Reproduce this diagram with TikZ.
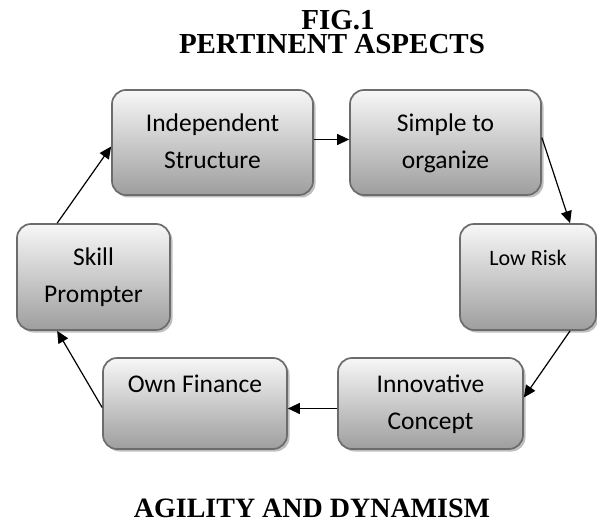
\documentclass[tikz,border=0pt]{standalone}
\usepackage{fontspec}
\setmainfont{Liberation Serif}
\newfontfamily\boxfont{Carlito}
\usetikzlibrary{arrows.meta,shadows}

\definecolor{boxtop}{RGB}{247,247,247}
\definecolor{boxbottom}{RGB}{158,158,158}
\definecolor{boxedge}{RGB}{108,108,108}

\begin{document}
\begin{tikzpicture}[x=1pt,y=-1pt,
  stage/.style={rectangle, rounded corners=14pt, draw=boxedge, line width=1.7pt,
    top color=boxtop, bottom color=boxbottom,
    drop shadow={shadow xshift=2.5pt, shadow yshift=-2.5pt, fill=black!25, opacity=1},
    align=center, inner sep=0pt, text=black,
    font=\boxfont\fontsize{25.5}{37}\selectfont},
  link/.style={-{Triangle[length=12pt,width=11pt]}, line width=1.2pt, draw=black},
  heading/.style={anchor=base, inner sep=0pt, font=\bfseries\fontsize{29}{34}\selectfont}
]
\useasboundingbox (0,0) rectangle (597,529);

% titles
\node[heading] (fig) at (338,30) {FIG.1};
\node[heading] (aspects) at (332,54) {PERTINENT ASPECTS};
\node[heading, font=\bfseries\fontsize{28}{34}\selectfont] (agility) at (312,517) {AGILITY AND DYNAMISM};

% the six stages
\node[stage, minimum width=201, minimum height=105] (indep) at (212.5,142.5)
  {\strut Independent\\\strut Structure};
\node[stage, minimum width=191, minimum height=105] (simple) at (445.5,142.5)
  {\strut Simple to\\\strut organize};
\node[stage, minimum width=136, minimum height=106,
      font=\boxfont\fontsize{22}{37}\selectfont] (low) at (528,277)
  {\strut Low Risk\\\strut};
\node[stage, minimum width=185, minimum height=91] (innov) at (430.5,403.5)
  {\strut Innovative\\\strut Concept};
\node[stage, minimum width=184, minimum height=91] (own) at (195,403.5)
  {\strut Own Finance\\\strut};
\node[stage, minimum width=153, minimum height=106] (skill) at (93.5,277)
  {\strut Skill\\\strut Prompter};

% cycle of arrows
\draw[link] ([yshift=3pt]indep.east) -- ([yshift=3pt]simple.west);
\draw[link] ([yshift=5pt]simple.east) -- (low.52);
\draw[link] (low.308) -- ([yshift=6pt]innov.east);
\draw[link] ([yshift=-5pt]innov.west) -- ([yshift=-5pt]own.west -| own.east);
\draw[link] ([yshift=-4pt]own.west) -- (skill.236);
\draw[link] (skill.124) -- ([yshift=-4pt]indep.west);
\end{tikzpicture}
\end{document}
